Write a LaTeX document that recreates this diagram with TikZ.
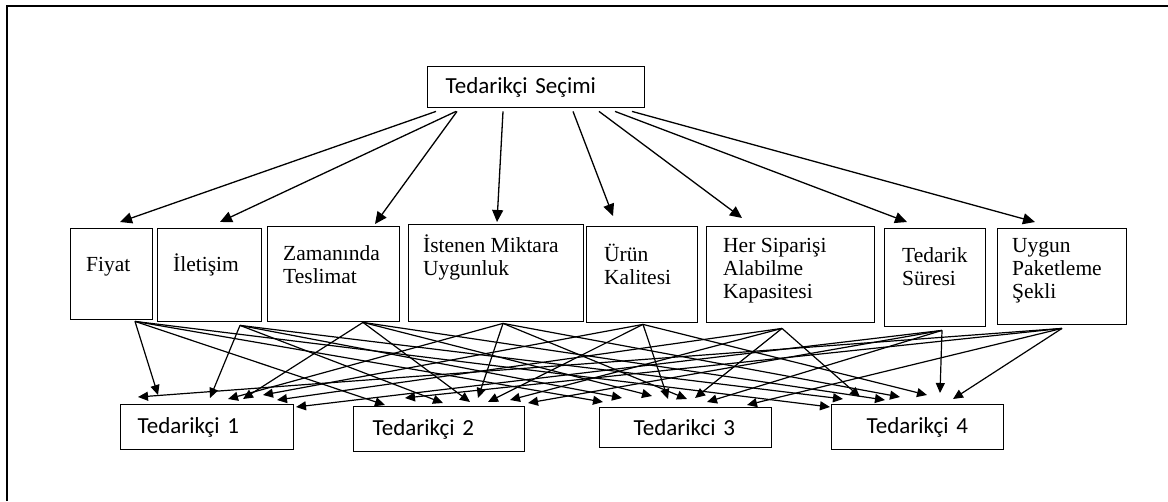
\documentclass[tikz,border=0pt]{standalone}
\usepackage{fontspec}
\setmainfont{Liberation Serif}
\newfontfamily\calfont{Carlito}
\usetikzlibrary{arrows.meta,calc}
\begin{document}
\begin{tikzpicture}[x=1pt,y=-1pt,
  box/.style={draw, line width=1.4pt, inner sep=0pt, anchor=north west},
  sbox/.style={box, font=\calfont\fontsize{23}{27}\selectfont, align=left},
  mtext/.style={anchor=base west, inner sep=0pt, align=left, font=\fontsize{21.5}{23}\selectfont},
  toparr/.style={line width=1.3pt, -{Triangle[length=12pt,width=11pt]}},
  botarr/.style={line width=1.2pt, -{Triangle[length=10pt,width=9pt]}}]
\useasboundingbox (0,0) rectangle (1168,501);
\draw[line width=1.4pt] (7,501) -- (7,6) -- (1168,6);

% top node
\node[sbox, minimum width=217pt, minimum height=41pt, inner xsep=18pt, text width=181pt] (sel) at (427,66) {Tedarikçi Seçimi};

% middle boxes
\node[box, minimum width=82pt,  minimum height=91pt] (fiy) at (70,228) {};
\node[box, minimum width=104pt, minimum height=93pt] (ilt) at (157,228) {};
\node[box, minimum width=132pt, minimum height=95pt] (zam) at (267,226) {};
\node[box, minimum width=175pt, minimum height=97pt] (ist) at (408,224) {};
\node[box, minimum width=111pt, minimum height=96pt] (urn) at (586,226) {};
\node[box, minimum width=168pt, minimum height=96pt] (her) at (706,226) {};
\node[box, minimum width=101pt, minimum height=98pt] (sur) at (884,228) {};
\node[box, minimum width=129pt, minimum height=96pt] (uyg) at (997,228) {};

% labels (anchor = baseline of the last line)
\node[mtext] (fiy-l) at ($(fiy.north west)+(16,43)$) {Fiyat};
\node[mtext] (ilt-l) at ($(ilt.north west)+(16,43)$) {İletişim};
\node[mtext] (zam-l) at ($(zam.north west)+(16,57)$) {Zamanında\\Teslimat};
\node[mtext] (ist-l) at ($(ist.north west)+(15,51)$) {İstenen Miktara\\Uygunluk};
\node[mtext] (urn-l) at ($(urn.north west)+(18,58)$) {Ürün\\Kalitesi};
\node[mtext] (her-l) at ($(her.north west)+(17,72)$) {Her Siparişi\\Alabilme\\Kapasitesi};
\node[mtext] (sur-l) at ($(sur.north west)+(18,57)$) {Tedarik\\Süresi};
\node[mtext] (uyg-l) at ($(uyg.north west)+(15,70)$) {Uygun\\Paketleme\\Şekli};

% bottom boxes
\node[sbox, minimum width=173pt, minimum height=45pt, inner xsep=17pt, text width=139pt] (t1) at (120,404) {Tedarikçi 1};
\node[sbox, minimum width=171pt, minimum height=45pt, inner xsep=19pt, text width=133pt] (t2) at (353,406) {Tedarikçi 2};
\node[sbox, minimum width=172pt, minimum height=40pt, inner xsep=34pt, text width=104pt] (t3) at (599,407) {Tedarikci 3};
\node[sbox, minimum width=172pt, minimum height=45pt, inner xsep=35pt, text width=102pt] (t4) at (831,404) {Tedarikçi 4};

% top arrows
\foreach \a/\t/\tx/\ty in {9/fiy/50/-6, 29/ilt/63/-6, 30/zam/108/-2, 76/ist/89/-2, 146/urn/27/-10, 172/her/36/-8, 188/sur/23/-6, 205/uyg/38/-6}
  \draw[toparr] ($(sel.south west)+(\a,3)$) -- ($(\t.north west)+(\tx,\ty)$);

% bottom arrows
\foreach \s/\sx/\sy/\t/\tx/\ty in {
  fiy/65/1/t1/38/-9, fiy/65/1/t2/32/-1, fiy/65/1/t3/4/-5, fiy/65/1/t4/-1/3,
  ilt/83/3/t1/90/-6, ilt/83/3/t2/90/-3, ilt/83/3/t3/23/-9, ilt/83/3/t4/12/-5,
  zam/96/0/t1/123/-5, zam/96/0/t2/117/-4, zam/96/0/t3/53/-11, zam/96/0/t4/54/-4,
  ist/95/1/t1/108/-5, ist/95/1/t2/125/-8, ist/95/1/t3/88/-8, ist/95/1/t4/69/-7,
  urn/57/1/t1/143/-9, urn/57/1/t2/135/-4, urn/57/1/t3/69/-8, urn/57/1/t4/96/-9,
  her/76/5/t1/157/-4, her/76/5/t2/157/-6, her/76/5/t3/96/-9, her/76/5/t4/29/-7,
  sur/58/3/t1/176/3, sur/58/3/t2/175/-3, sur/58/3/t3/108/-5, sur/58/3/t4/109/-11,
  uyg/65/3/t1/18/-7, uyg/65/3/t2/52/-8, uyg/65/3/t3/148/-2, uyg/65/3/t4/122/-5}
  \draw[botarr] ($(\s.south west)+(\sx,\sy)$) -- ($(\t.north west)+(\tx,\ty)$);
\end{tikzpicture}
\end{document}
